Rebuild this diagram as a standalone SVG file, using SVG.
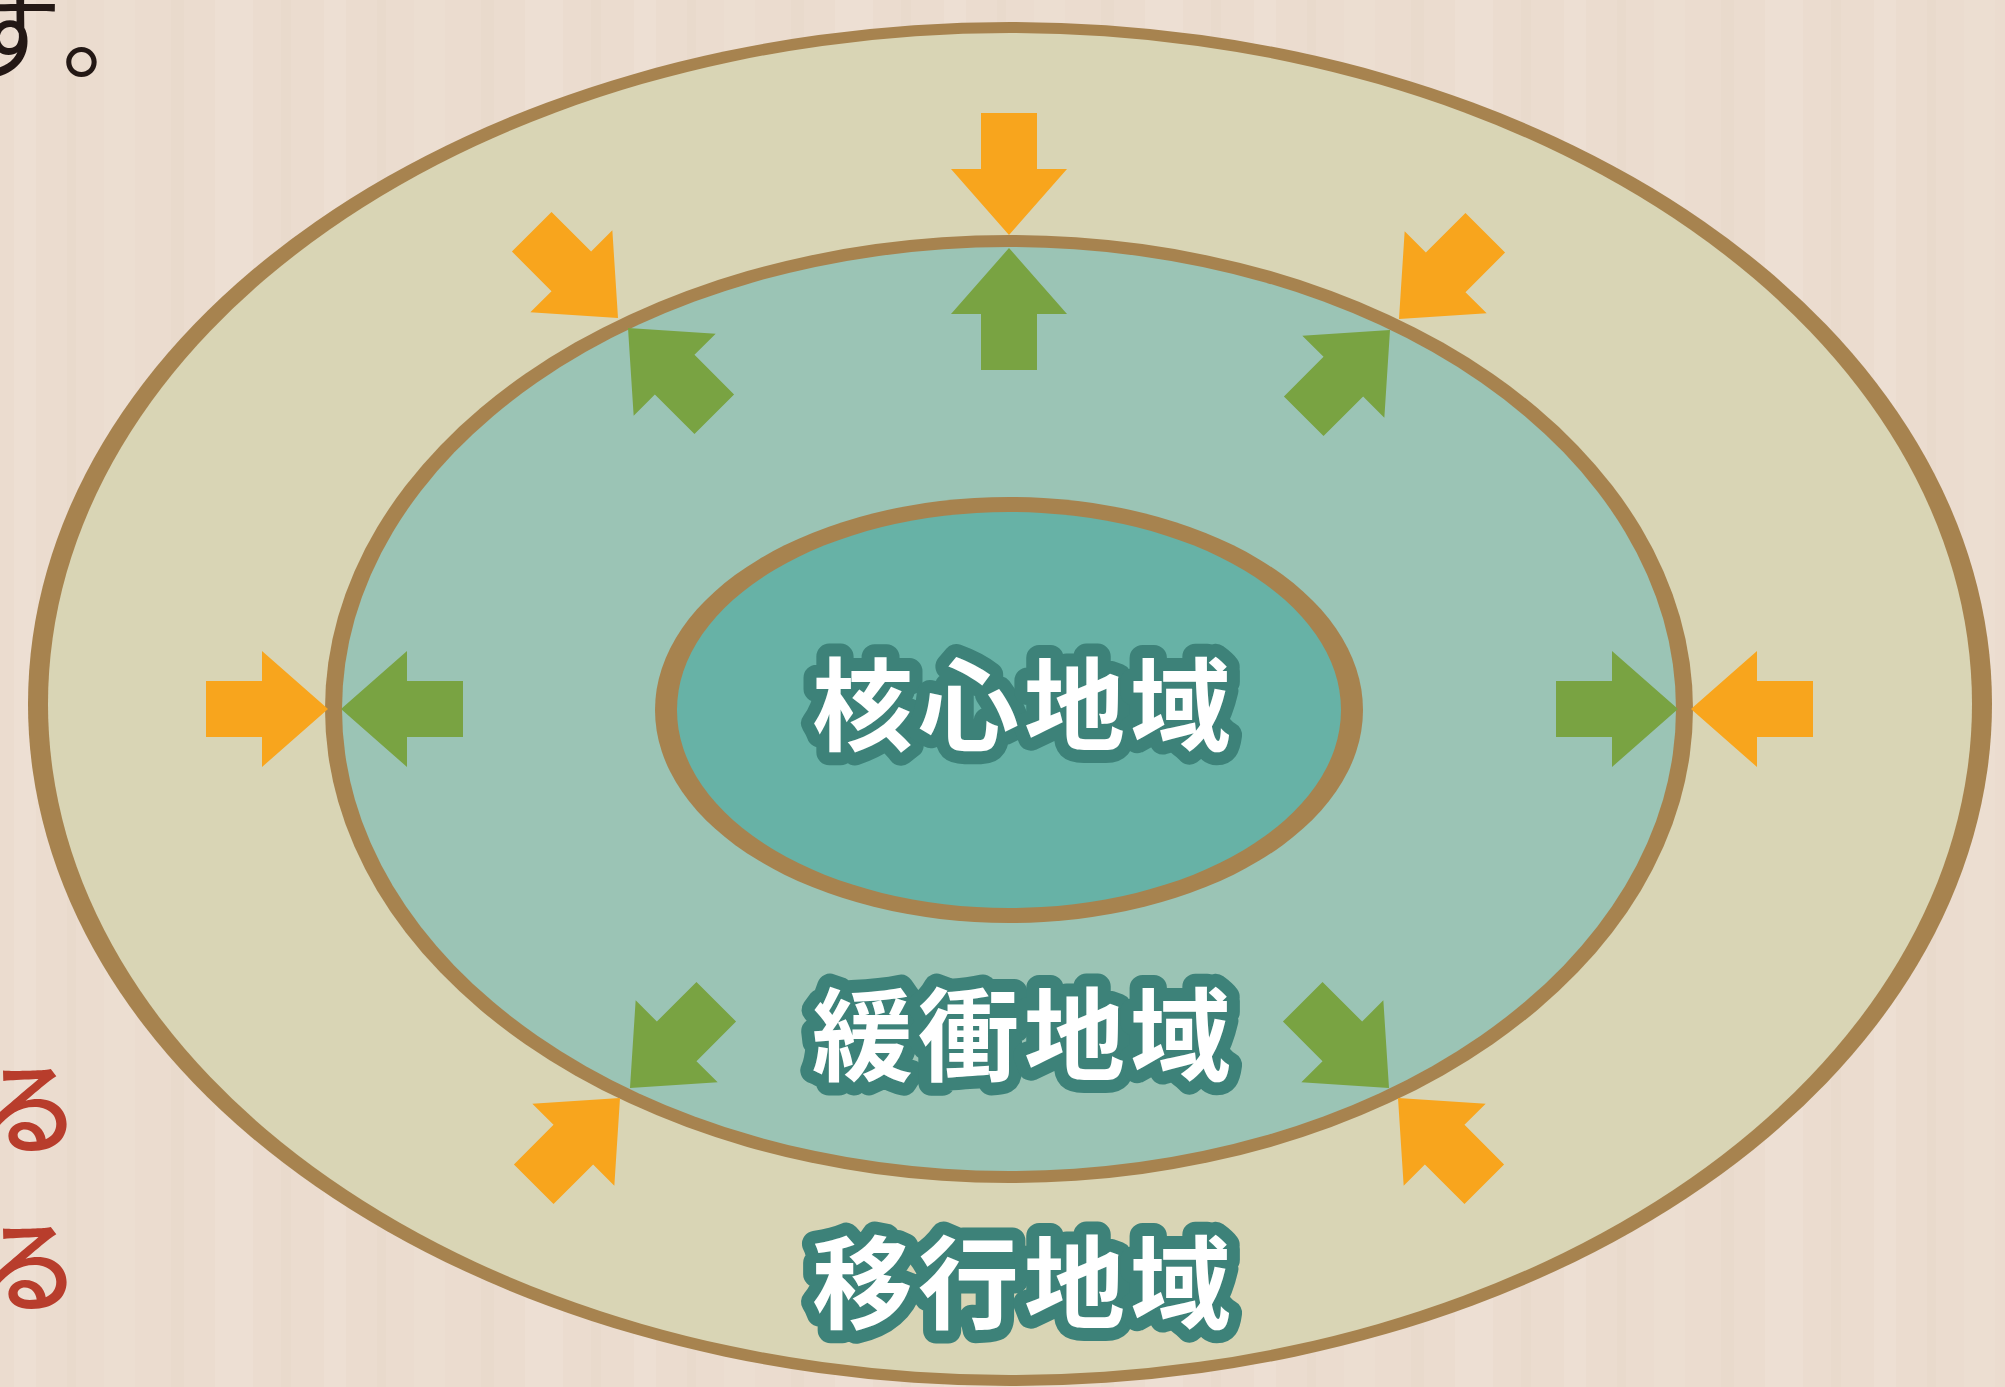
<svg xmlns="http://www.w3.org/2000/svg" width="2005" height="1387" viewBox="0 0 2005 1387">
  <style>
    .ring { fill: #A7834F; }
    .label { font-family: "Noto Sans CJK JP", "Noto Sans CJK SC", sans-serif; font-weight: 700; font-size: 101px; letter-spacing: 5px; fill: #FFFFFF; stroke: #3D8279; stroke-width: 26px; stroke-linejoin: round; paint-order: stroke fill; }
    .orange { fill: #F8A51D; }
    .green { fill: #79A342; }
    .body { font-family: "Noto Sans CJK JP", "Noto Sans CJK SC", sans-serif; font-size: 100px; }
  </style>
  <defs>
    <path id="arrow" d="M0,0 L-66,-58 L-66,-28 L-122,-28 L-122,28 L-66,28 L-66,58 Z"/>
    <pattern id="wood" x="0" y="0" width="310" height="1387" patternUnits="userSpaceOnUse">
      <rect x="0" y="0" width="310" height="1387" fill="#EBDCCF"/>
      <rect x="14" y="0" width="22" height="1387" fill="#EFE1D5" opacity="0.6"/>
      <rect x="67" y="0" width="9" height="1387" fill="#E7D7C9" opacity="0.5"/>
      <rect x="104" y="0" width="31" height="1387" fill="#EEE0D4" opacity="0.5"/>
      <rect x="171" y="0" width="13" height="1387" fill="#E8D8CA" opacity="0.5"/>
      <rect x="215" y="0" width="38" height="1387" fill="#EFE2D7" opacity="0.45"/>
      <rect x="281" y="0" width="10" height="1387" fill="#E7D7C8" opacity="0.45"/>
    </pattern>
  </defs>

  <rect id="background" x="0" y="0" width="2005" height="1387" fill="url(#wood)"/>

  <g id="page-text">
    <text class="body" x="-38" y="71" fill="#231815" font-weight="400">す<tspan dx="10">。</tspan></text>
    <text class="body" x="-20" y="1146" fill="#B83D2C" font-weight="500" font-size="106">る</text>
    <text class="body" x="-20" y="1304" fill="#B83D2C" font-weight="500" font-size="106">る</text>
  </g>

  <g id="transition-zone">
    <ellipse class="ring" cx="1010" cy="704" rx="982" ry="682"/>
    <ellipse cx="1010" cy="704" rx="962" ry="671" fill="#D9D5B5"/>
  </g>

  <g id="buffer-zone">
    <ellipse class="ring" cx="1009" cy="709" rx="684" ry="474"/>
    <ellipse cx="1009" cy="709" rx="667" ry="462" fill="#9BC4B5"/>
  </g>

  <g id="core-zone">
    <ellipse class="ring" cx="1009" cy="710" rx="354" ry="213"/>
    <ellipse cx="1009" cy="710" rx="332" ry="198" fill="#67B2A6"/>
    <text class="label" x="812" y="743">核心地域</text>
  </g>

  <g id="connectors">
    <!-- top -->
    <use href="#arrow" class="orange" transform="translate(1009,235) rotate(90)"/>
    <use href="#arrow" class="green" transform="translate(1009,248) rotate(-90)"/>
    <!-- left -->
    <use href="#arrow" class="orange" transform="translate(328,709)"/>
    <use href="#arrow" class="green" transform="translate(341,709) rotate(180)"/>
    <!-- right -->
    <use href="#arrow" class="green" transform="translate(1678,709)"/>
    <use href="#arrow" class="orange" transform="translate(1691,709) rotate(180)"/>
    <!-- top-left -->
    <use href="#arrow" class="orange" transform="translate(618,318) rotate(45)"/>
    <use href="#arrow" class="green" transform="translate(628,328) rotate(225)"/>
    <!-- top-right -->
    <use href="#arrow" class="orange" transform="translate(1399,319) rotate(135)"/>
    <use href="#arrow" class="green" transform="translate(1390,330) rotate(-45)"/>
    <!-- bottom-left -->
    <use href="#arrow" class="orange" transform="translate(620,1098) rotate(-45)"/>
    <use href="#arrow" class="green" transform="translate(630,1088) rotate(135)"/>
    <!-- bottom-right -->
    <use href="#arrow" class="green" transform="translate(1389,1088) rotate(45)"/>
    <use href="#arrow" class="orange" transform="translate(1398,1098) rotate(225)"/>
  </g>

  <g id="buffer-label">
    <text class="label" x="812" y="1073">緩衝地域</text>
  </g>
  <g id="transition-label">
    <text class="label" x="812" y="1321">移行地域</text>
  </g>
</svg>
